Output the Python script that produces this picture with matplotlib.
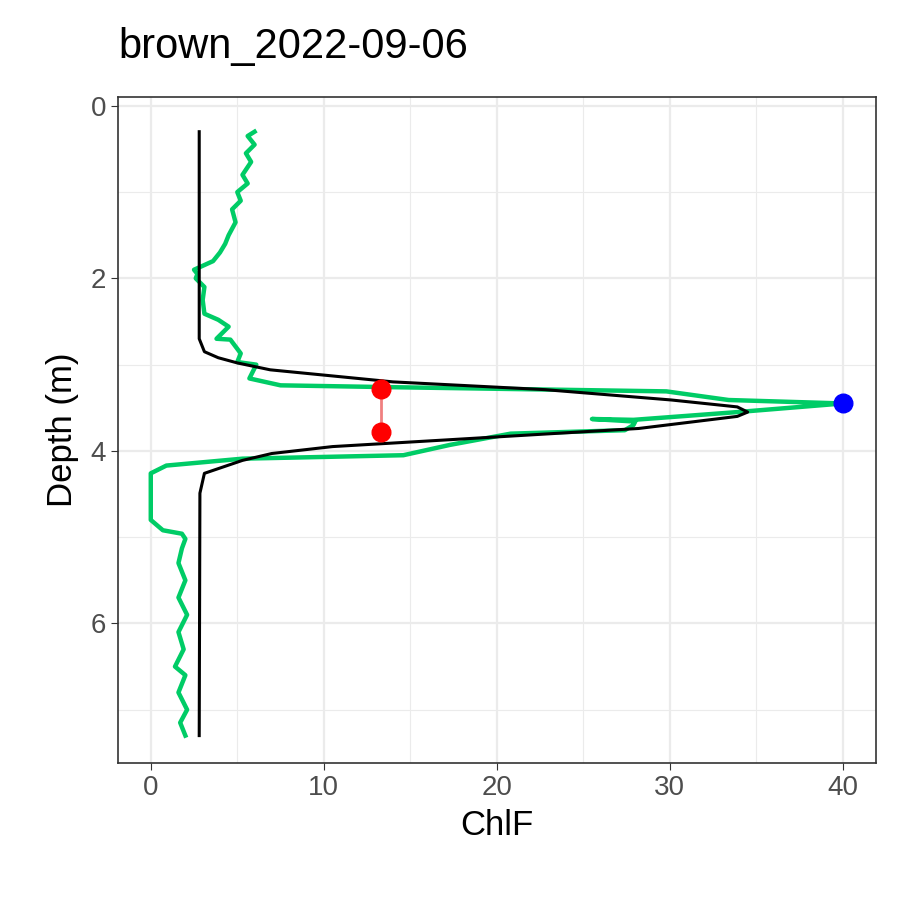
import matplotlib
matplotlib.use("Agg")
import matplotlib.pyplot as plt
from matplotlib.ticker import MultipleLocator

plt.rcParams['font.family'] = ['Liberation Sans', 'DejaVu Sans']

green_depth = [0.3,0.35,0.45,0.55,0.65,0.8,0.9,1.0,1.1,1.2,1.35,1.5,1.6,1.7,1.8,1.9,1.95,2.0,2.1,2.25,2.41,2.48,2.56,2.70,2.71,2.87,2.97,3.00,3.16,3.24,3.26,3.31,3.41,3.45,
               3.55,3.64,3.63,3.66,3.70,3.76,3.80,3.93,4.05,4.09,4.17,4.26,4.80,4.92,4.96,5.02,5.13,5.3,5.5,5.7,5.9,6.1,6.3,6.5,6.6,6.8,7.0,7.15,7.3]
green_chl =   [6.0,5.6,6.0,5.5,5.8,5.3,5.6,5.0,5.2,4.7,4.9,4.5,4.3,4.0,3.6,2.5,2.7,2.6,3.1,3.0,3.1,3.9,4.5,3.8,4.6,5.2,5.0,6.1,5.7,7.5,13.5,29.8,33.4,40.0,
               33.9,27.9,25.5,28.0,27.9,27.4,20.8,17.3,14.6,5.3,0.9,0.0,0.0,0.7,1.8,2.0,1.8,1.6,2.0,1.6,2.1,1.6,1.9,1.4,2.0,1.6,2.1,1.7,2.0]
black_depth = [0.3,2.7,2.85,2.92,2.98,3.06,3.2,3.29,3.41,3.49,3.55,3.60,3.74,3.87,3.95,4.03,4.11,4.26,4.49,7.3]
black_chl =   [2.8,2.8,3.1,3.9,5.0,6.9,14.0,22.8,30.1,33.9,34.5,33.9,28.2,17.3,10.5,7.0,5.3,3.1,2.84,2.8]
red_depth = [3.28,3.78]
red_chl = [13.3,13.3]
blue_depth = [3.45]
blue_chl = [40.0]

fig = plt.figure(figsize=(9,9), dpi=100)
ax = fig.add_axes([0.131,0.152,0.842,0.740])
ax.plot(green_chl, green_depth, color="#00CC66", lw=3.2, zorder=2)
ax.plot(black_chl, black_depth, color="black", lw=2.2, zorder=3)
ax.plot(red_chl, red_depth, color="#F08080", lw=2, zorder=4)
ax.scatter(red_chl, red_depth, color="red", s=180, zorder=5)
ax.scatter(blue_chl, blue_depth, color="blue", s=180, zorder=5)
ax.set_xlim(-1.9, 41.9)
ax.set_ylim(7.62, -0.1)
ax.xaxis.set_major_locator(MultipleLocator(10))
ax.xaxis.set_minor_locator(MultipleLocator(5))
ax.yaxis.set_major_locator(MultipleLocator(2))
ax.yaxis.set_minor_locator(MultipleLocator(1))
ax.grid(which="major", color="#EBEBEB", lw=1.6)
ax.grid(which="minor", color="#EBEBEB", lw=0.8)
ax.set_axisbelow(True)
for s in ax.spines.values():
    s.set_color("#333333"); s.set_linewidth(1.2)
ax.tick_params(which="major", labelsize=20, labelcolor="#4D4D4D", color="#333333", length=5)
ax.tick_params(which="minor", length=0)
ax.set_xlabel("ChlF", fontsize=25, labelpad=6)
ax.set_ylabel("Depth (m)", fontsize=25, labelpad=8)
fig.text(0.131, 0.948, "brown_2022-09-06", fontsize=30, va="center", ha="left")
fig.savefig("out.png", dpi=100)
